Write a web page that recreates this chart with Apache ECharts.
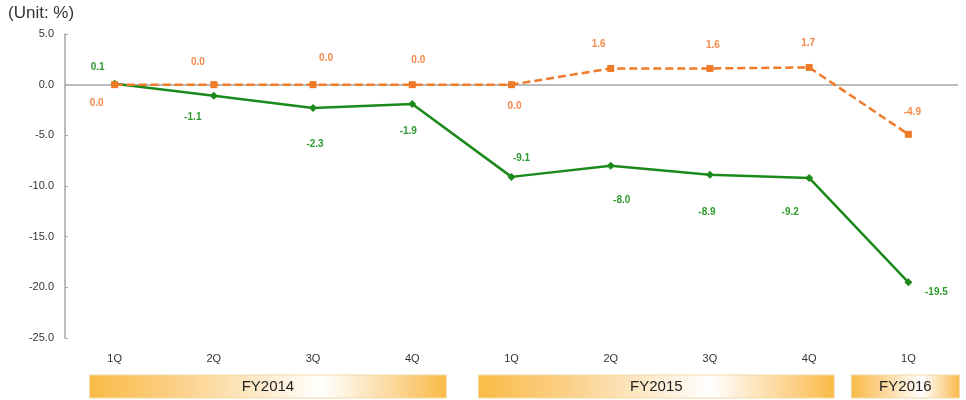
<!DOCTYPE html>
<html>
<head>
<meta charset="utf-8">
<script src="https://cdn.jsdelivr.net/npm/echarts@6/dist/echarts.min.js"></script>
<style>
html,body{margin:0;padding:0;background:#fff;}
#chart{width:966px;height:400px;}
</style>
</head>
<body>
<div id="chart"></div>
<script>
var categories = ['1Q','2Q','3Q','4Q','1Q','2Q','3Q','4Q','1Q'];
var greenValues = [0.1, -1.1, -2.3, -1.9, -9.1, -8.0, -8.9, -9.2, -19.5];
var orangeValues = [0.0, 0.0, 0.0, 0.0, 0.0, 1.6, 1.6, 1.7, -4.9];
var yearGroups = ['FY2014', 'FY2015', 'FY2016'];
var yearGroupStart = [0, 4, 8];
var yearGroupEnd = [3, 7, 8];
var yTickMin = -25, yTickMax = 5, yTickStep = 5;

// label offsets (style only)
var greenLabelOffsets = [[-17,-16],[-21,21],[2,36],[-4,27],[10,-19],[11,35],[-3,37],[-19,34],[28,10]];
var orangeLabelOffsets = [[-18,19],[-16,-22],[13,-26],[6,-24],[3,22],[-12,-24],[3,-23],[-1,-24],[4,-22]];
// box padding (left, right) in px relative to category centres
var boxPad = [[25,34],[33,25],[57,51]];

function buildData(values, offsets, color) {
  return values.map(function(v, i){
    return {
      value: v,
      label: {
        show: true,
        position: 'inside',
        offset: offsets[i],
        formatter: function(p){ return p.value.toFixed(1); },
        color: color,
        fontSize: 10,
        fontWeight: 'bold',
        fontFamily: 'Liberation Sans, Arial, sans-serif'
      }
    };
  });
}

var chart = echarts.init(document.getElementById('chart'), null, {renderer: 'canvas'});
var font = 'Liberation Sans, Arial, sans-serif';
var unitText = {
  type: 'text', left: 8, top: 5,
  style: {text: '(Unit: %)', fill: '#333', fontSize: 17, fontFamily: font}
};
chart.setOption({
  animation: false,
  backgroundColor: '#ffffff',
  grid: {left: 65, right: 8, top: 34, bottom: 62, containLabel: false},
  xAxis: {
    type: 'category',
    data: categories,
    boundaryGap: true,
    axisLine: {show: false},
    axisTick: {show: false},
    splitLine: {show: false},
    axisLabel: {color: '#333', fontSize: 11, fontFamily: font, margin: 15}
  },
  yAxis: {
    type: 'value',
    min: yTickMin, max: yTickMax, interval: yTickStep,
    axisLine: {show: true, lineStyle: {color: '#a6a6a6', width: 1.5}},
    axisTick: {show: true, inside: true, length: 3, lineStyle: {color: '#a6a6a6'}},
    splitLine: {show: false},
    axisLabel: {color: '#333', fontSize: 11, fontFamily: font, margin: 11,
      formatter: function(v){ return v.toFixed(1); }}
  },
  graphic: [unitText],
  series: [
    {
      type: 'line',
      data: buildData(greenValues, greenLabelOffsets, '#2f9a2f'),
      symbol: 'diamond', symbolSize: 8,
      lineStyle: {color: '#1b8a1b', width: 2.5},
      itemStyle: {color: '#1b8a1b'},
      z: 3,
      markLine: {
        silent: true, symbol: 'none',
        label: {show: false},
        lineStyle: {color: '#a6a6a6', width: 1.5, type: 'solid'},
        data: [{yAxis: 0}],
        z: 1
      }
    },
    {
      type: 'line',
      data: buildData(orangeValues, orangeLabelOffsets, '#f5894a'),
      symbol: 'rect', symbolSize: 7,
      lineStyle: {color: '#f07a28', width: 2.5, type: [8, 4]},
      itemStyle: {color: '#f07a28'},
      z: 4
    }
  ]
});

var boxes = yearGroups.map(function(name, g){
  var x0 = chart.convertToPixel({xAxisIndex: 0}, yearGroupStart[g]) - boxPad[g][0];
  var x1 = chart.convertToPixel({xAxisIndex: 0}, yearGroupEnd[g]) + boxPad[g][1];
  return {
    type: 'group',
    children: [
      {
        type: 'rect',
        shape: {x: x0, y: 375, width: x1 - x0, height: 23},
        style: {
          fill: new echarts.graphic.LinearGradient(0, 0, 1, 0, [
            {offset: 0, color: '#f9bb45'},
            {offset: 0.25, color: '#fbd088'},
            {offset: 0.65, color: '#ffffff'},
            {offset: 0.85, color: '#fcd79a'},
            {offset: 1, color: '#f9bb45'}
          ]),
          stroke: '#f3d9a8', lineWidth: 1
        }
      },
      {
        type: 'text',
        x: (x0 + x1) / 2, y: 386.5,
        style: {text: name, fill: '#222', fontSize: 15, fontFamily: font,
          align: 'center', verticalAlign: 'middle'}
      }
    ]
  };
});
chart.setOption({graphic: [unitText].concat(boxes)});
</script>
</body>
</html>
